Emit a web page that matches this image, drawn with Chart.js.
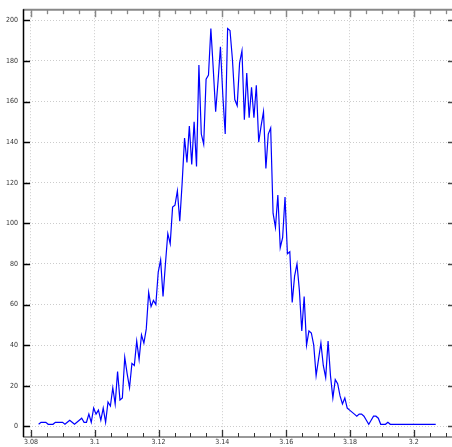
<!DOCTYPE html>
<html>
<head>
<meta charset="utf-8">
<script src="https://cdn.jsdelivr.net/npm/chart.js@4"></script>
<style>
  body { margin: 0; background: #fff; }
  canvas { display: block; }
</style>
</head>
<body>
<canvas id="histChart" width="452" height="447"></canvas>
<script>
// Histogram counts of the pi estimates, one value per bin
const counts = [
  1, 2, 2, 2, 1, 1, 1, 2, 2, 2,
  2, 1, 2, 3, 2, 1, 2, 3, 4, 2,
  2, 6, 2, 9, 6, 8, 3, 9, 2, 12,
  10, 19, 11, 27, 13, 14, 34, 26, 19, 31,
  30, 42, 33, 45, 41, 48, 66, 59, 62, 60,
  76, 82, 64, 80, 95, 90, 108, 109, 116, 101,
  120, 142, 130, 148, 129, 150, 128, 178, 144, 139,
  171, 173, 196, 176, 155, 170, 187, 163, 144, 196,
  195, 181, 161, 158, 179, 185, 151, 174, 152, 167,
  152, 168, 140, 148, 155, 127, 144, 147, 105, 98,
  114, 88, 93, 113, 85, 86, 61, 74, 80, 67,
  47, 64, 40, 47, 46, 40, 25, 33, 41, 30,
  24, 42, 25, 14, 23, 21, 15, 11, 14, 9,
  8, 7, 6, 5, 6, 6, 5, 3, 1, 3,
  5, 5, 4, 1, 1, 1, 2, 1, 1, 1,
  1, 1, 1, 1, 1, 1, 1, 1, 1, 1,
  1, 1, 1, 1, 1, 1, 1
];

// bin positions on the x axis
const firstBin = 3.0824;
const binWidth = 0.00075;
const binCenters = counts.map((_, i) => +(firstBin + i * binWidth).toFixed(5));

// axis ticks
const xMajorTicks = [3.08, 3.1, 3.12, 3.14, 3.16, 3.18, 3.2];
const xMinorTicks = [3.085, 3.09, 3.095, 3.105, 3.11, 3.115, 3.125, 3.13, 3.135,
  3.145, 3.15, 3.155, 3.165, 3.17, 3.175, 3.185, 3.19, 3.195, 3.205, 3.21];
const yMajorTicks = [0, 20, 40, 60, 80, 100, 120, 140, 160, 180, 200];

const tickFont = { family: "'Liberation Sans Narrow', 'DejaVu Sans Condensed', sans-serif", size: 7 };

/**
 * Draws the box round the plot and the inward pointing tick marks.
 */
const frameTicks = {
  id: 'frameTicks',
  afterDatasetsDraw(chart) {
    const { ctx, chartArea: a, scales: { x, y } } = chart;
    ctx.save();

    function seg(x1, y1, x2, y2, color, width) {
      ctx.strokeStyle = color;
      ctx.lineWidth = width;
      ctx.beginPath();
      ctx.moveTo(x1, y1);
      ctx.lineTo(x2, y2);
      ctx.stroke();
    }

    // frame
    seg(a.left, a.top + 0.5, a.right, a.top + 0.5, '#888', 2);
    seg(a.left, a.bottom, a.right, a.bottom, '#333', 1);
    seg(a.left + 0.5, a.top, a.left + 0.5, a.bottom, '#000', 1.5);

    // x ticks, bottom and top
    xMajorTicks.forEach(v => {
      const px = Math.round(x.getPixelForValue(v)) + 0.5;
      seg(px, a.bottom, px, a.bottom - 7, '#333', 1.3);
      seg(px, a.top, px, a.top + 8, '#888', 1.5);
    });
    xMinorTicks.forEach(v => {
      const px = Math.round(x.getPixelForValue(v)) + 0.5;
      seg(px, a.bottom, px, a.bottom - 4, '#333', 1);
      seg(px, a.top, px, a.top + 5, '#888', 1.3);
    });

    // y ticks, left and right
    yMajorTicks.forEach(v => {
      const py = Math.round(y.getPixelForValue(v)) + 0.5;
      seg(a.left, py, a.left + 7, py, '#000', 1.5);
      seg(a.right, py, a.right - 4, py, '#444', 1.5);
    });

    ctx.restore();
  }
};

const ctx = document.getElementById('histChart').getContext('2d');
new Chart(ctx, {
  type: 'line',
  data: {
    datasets: [{
      data: binCenters.map((c, i) => ({ x: c, y: counts[i] })),
      borderColor: '#0000ff',
      borderWidth: 1.2,
      pointRadius: 0,
      tension: 0,
      fill: false
    }]
  },
  options: {
    responsive: false,
    animation: false,
    devicePixelRatio: 1,
    layout: { padding: { top: 7, right: 0, left: 0, bottom: 0 } },
    plugins: {
      legend: { display: false },
      tooltip: { enabled: false }
    },
    scales: {
      x: {
        type: 'linear',
        min: 3.0775,
        max: 3.212,
        afterBuildTicks: (scale) => { scale.ticks = xMajorTicks.map(v => ({ value: v })); },
        afterFit: (scale) => { scale.height = 10; },
        ticks: {
          font: tickFont,
          color: '#333',
          padding: 1,
          maxRotation: 0,
          autoSkip: false,
          callback: (v) => String(+v.toFixed(2))
        },
        grid: { color: '#cccccc', drawTicks: false, lineWidth: 1 },
        border: { display: false, dash: [1, 2] }
      },
      y: {
        min: -5.25,
        max: 205.5,
        afterBuildTicks: (scale) => { scale.ticks = yMajorTicks.map(v => ({ value: v })); },
        afterFit: (scale) => { scale.width = 23; },
        ticks: {
          font: tickFont,
          color: '#333',
          padding: 5
        },
        grid: { color: '#cccccc', drawTicks: false, lineWidth: 1 },
        border: { display: false, dash: [1, 2] }
      }
    }
  },
  plugins: [frameTicks]
});
</script>
</body>
</html>
